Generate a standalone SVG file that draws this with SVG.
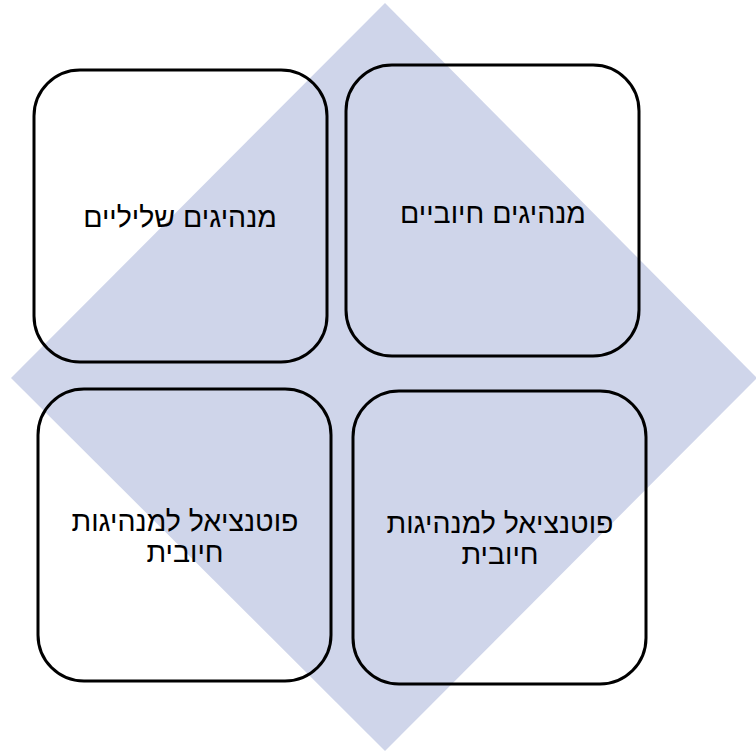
<svg xmlns="http://www.w3.org/2000/svg" width="756" height="752" viewBox="0 0 756 752">
<style>
.box{fill:none;stroke:#000;stroke-width:3}
.t{font-family:"Liberation Sans","DejaVu Sans",sans-serif;font-size:28.5px;fill:#000;text-anchor:middle}
</style>
<rect width="756" height="752" fill="#fff"/>
<polygon id="diamond" points="385,3 757,378 385,751 11,378" fill="#cfd5ea"/>
<g id="n1"><rect class="box" x="34" y="70" width="293" height="292" rx="46"/><text class="t" x="180" y="227">מנהיגים שליליים</text></g>
<g id="n2"><rect class="box" x="346" y="65" width="293" height="291" rx="46"/><text class="t" x="493" y="223">מנהיגים חיוביים</text></g>
<g id="n3"><rect class="box" x="38" y="389" width="293" height="292" rx="46"/><text class="t" x="185" y="531">פוטנציאל למנהיגות</text><text class="t" x="185" y="562">חיובית</text></g>
<g id="n4"><rect class="box" x="353" y="391" width="293" height="293" rx="46"/><text class="t" x="500" y="533">פוטנציאל למנהיגות</text><text class="t" x="500" y="564">חיובית</text></g>
<g id="connectors"></g>
</svg>
